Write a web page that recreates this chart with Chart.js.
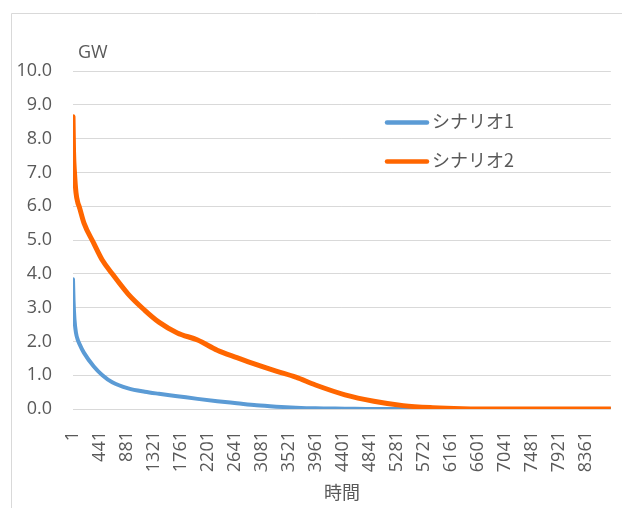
<!DOCTYPE html>
<html>
<head>
<meta charset="utf-8">
<script src="https://cdn.jsdelivr.net/npm/chart.js@4/dist/chart.umd.min.js"></script>
<style>
  body { margin: 0; background: #fff; }
  canvas { display: block; }
</style>
</head>
<body>
<canvas id="chart" width="622" height="508"></canvas>
<script>
// 時間（年間8760時間を大きい順に並べた位置）
const hours = [1, 10, 25, 50, 80, 100, 180, 340, 480, 640, 900, 1170, 1400, 1700, 2030, 2350, 2670, 2990, 3310, 3630, 3950, 4430, 4900, 5380, 5860, 6340, 7000, 8000, 8760];

// シナリオ別の出力 (GW)
const scenario1 = [3.84, 3.2, 2.65, 2.25, 2.04, 1.95, 1.66, 1.26, 1.0, 0.79, 0.61, 0.51, 0.45, 0.38, 0.3, 0.23, 0.17, 0.11, 0.07, 0.04, 0.02, 0.01, 0, 0, 0, 0, 0, 0, 0];
const scenario2 = [8.65, 7.6, 7.0, 6.4, 6.1, 6.0, 5.5, 4.9, 4.4, 4.0, 3.4, 2.92, 2.57, 2.25, 2.04, 1.74, 1.52, 1.31, 1.12, 0.94, 0.71, 0.42, 0.23, 0.10, 0.04, 0.01, 0, 0, 0];

const seriesNames = ['シナリオ1', 'シナリオ2'];
const seriesColors = ['#5B9BD5', '#FF6600'];
const seriesWidths = [4, 5];

// 横軸の目盛り
const hourTicks = [1, 441, 881, 1321, 1761, 2201, 2641, 3081, 3521, 3961, 4401, 4841, 5281, 5721, 6161, 6601, 7041, 7481, 7921, 8361];

const textColor = '#595959';
const gridColor = '#D9D9D9';
const latinFont = "'Open Sans', 'Noto Sans', sans-serif";
const cjkFont = "'Noto Sans CJK JP', sans-serif";

const toPoints = (values) => hours.map((h, i) => ({ x: h, y: values[i] }));

// 外枠と白背景
const framePlugin = {
    id: 'frame',
    beforeDraw(chart) {
        const ctx = chart.ctx;
        ctx.save();
        ctx.fillStyle = '#fff';
        ctx.fillRect(0, 0, chart.width, chart.height);
        ctx.strokeStyle = gridColor;
        ctx.lineWidth = 1;
        ctx.beginPath();
        ctx.moveTo(11.5, chart.height);
        ctx.lineTo(11.5, 13.5);
        ctx.lineTo(chart.width, 13.5);
        ctx.stroke();
        ctx.restore();
    }
};

// 単位ラベルとグラフ内の凡例
const labelsPlugin = {
    id: 'labels',
    afterDraw(chart) {
        const ctx = chart.ctx;
        const area = chart.chartArea;
        ctx.save();
        ctx.fillStyle = textColor;
        ctx.textBaseline = 'middle';
        ctx.textAlign = 'left';
        ctx.font = `18px ${latinFont}`;
        ctx.fillText('GW', area.left + 5, 53);

        ctx.font = `18px ${cjkFont}`;
        chart.data.datasets.forEach((ds, i) => {
            const y = area.top + 51.5 + i * 39;
            const x = area.left + 314;
            ctx.strokeStyle = ds.borderColor;
            ctx.lineWidth = 4.5;
            ctx.lineCap = 'round';
            ctx.beginPath();
            ctx.moveTo(x, y);
            ctx.lineTo(x + 40, y);
            ctx.stroke();
            ctx.fillText(ds.label, x + 45, y - 1);
        });
        ctx.restore();
    }
};

new Chart(document.getElementById('chart'), {
    type: 'line',
    data: {
        datasets: [
            {
                label: seriesNames[0],
                data: toPoints(scenario1),
                borderColor: seriesColors[0],
                borderWidth: seriesWidths[0],
                order: 2
            },
            {
                label: seriesNames[1],
                data: toPoints(scenario2),
                borderColor: seriesColors[1],
                borderWidth: seriesWidths[1],
                order: 1
            }
        ]
    },
    options: {
        responsive: false,
        animation: false,
        layout: { padding: { top: 71, right: 1, left: 0, bottom: 0 } },
        elements: {
            point: { radius: 0 },
            line: {
                cubicInterpolationMode: 'monotone',
                borderCapStyle: 'round',
                borderJoinStyle: 'round'
            }
        },
        plugins: {
            legend: { display: false },
            tooltip: { enabled: false }
        },
        scales: {
            x: {
                type: 'linear',
                min: 1,
                max: 8760,
                afterBuildTicks: (scale) => {
                    scale.ticks = hourTicks.map(v => ({ value: v }));
                },
                afterFit: (scale) => { scale.height = 99; },
                ticks: {
                    autoSkip: false,
                    minRotation: 90,
                    maxRotation: 90,
                    padding: 14,
                    color: textColor,
                    font: { family: latinFont, size: 18 },
                    callback: (value) => `${value}`
                },
                grid: { display: false },
                border: { display: false },
                title: {
                    display: true,
                    text: '時間',
                    color: textColor,
                    font: { family: cjkFont, size: 18 },
                    padding: { top: 0, bottom: 5 }
                }
            },
            y: {
                min: 0,
                max: 10,
                afterFit: (scale) => { scale.width = 73; },
                ticks: {
                    stepSize: 1,
                    padding: 21,
                    color: textColor,
                    font: { family: latinFont, size: 18 },
                    callback: (value) => value.toFixed(1)
                },
                grid: { color: gridColor, lineWidth: 1, drawTicks: false },
                border: { display: false }
            }
        }
    },
    plugins: [framePlugin, labelsPlugin]
});
</script>
</body>
</html>
